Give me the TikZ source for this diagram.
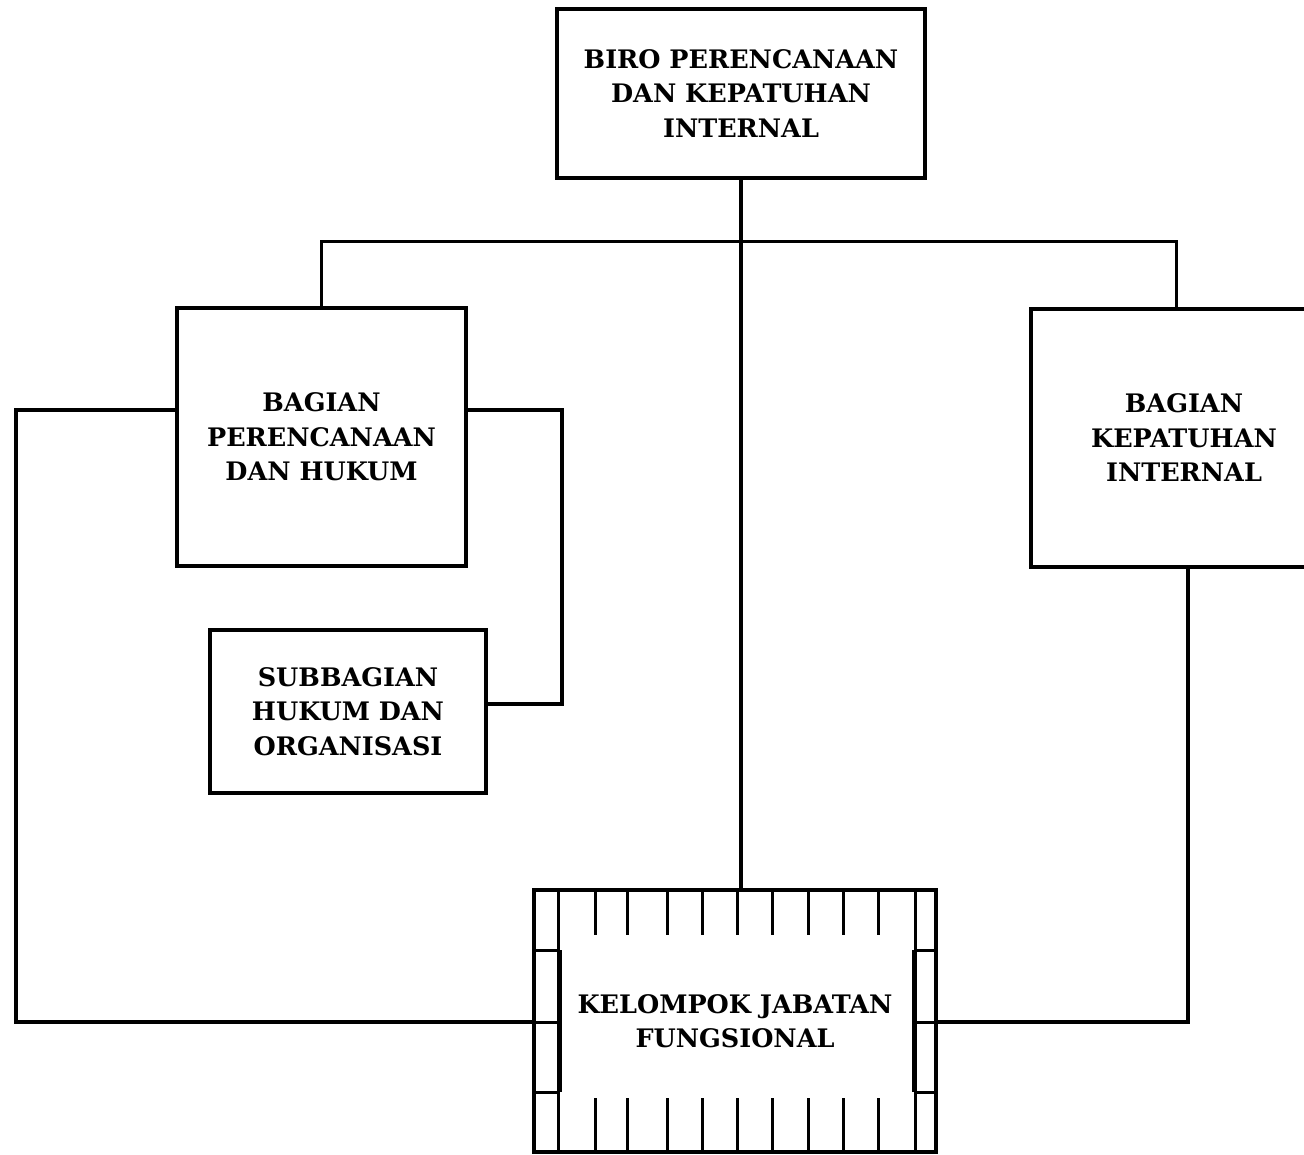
\documentclass[tikz,border=0pt]{standalone}
\usepackage{fontspec}
\setmainfont{DejaVu Serif}
\begin{document}
\begin{tikzpicture}[x=1pt,y=-1pt,
  lbl/.style={inner sep=0pt, align=center,
    font=\fontsize{25.5}{34.5}\selectfont\bfseries},
  box/.style={lbl, draw, line width=4pt},
  conn/.style={line width=4pt},
  bus/.style={line width=3pt},
  hatch/.style={line width=3pt}]
\useasboundingbox (0,0) rectangle (1304,1155);
\begin{scope}
\clip (0,0) rectangle (1304,1155);
\node[box, minimum width=368pt, minimum height=169pt] (biro) at (741,93.5) {BIRO PERENCANAAN\\DAN KEPATUHAN\\INTERNAL};
\node[box, minimum width=289pt, minimum height=258pt] (bph) at (321.5,437) {BAGIAN\\PERENCANAAN\\DAN HUKUM};
\node[box, minimum width=290pt, minimum height=258pt] (bki) at (1176,438) {};
\node[lbl] (bkitext) at (1184,438) {BAGIAN\\KEPATUHAN\\INTERNAL};
\node[box, minimum width=276pt, minimum height=163pt] (sub) at (348,711.5) {SUBBAGIAN\\HUKUM DAN\\ORGANISASI};
\node[box, minimum width=402pt, minimum height=262pt] (kjf) at (735,1021) {KELOMPOK JABATAN\\FUNGSIONAL};
\end{scope}
% hatching of the functional group box
\foreach \x in {558,915} \draw[hatch] (\x,890) -- (\x,1152);
\draw[line width=5pt] (559,950) -- (559,1092);
\draw[line width=5pt] (914,950) -- (914,1092);
\foreach \y in {950,1022,1092} {
  \draw[hatch] (534,\y) -- (558,\y);
  \draw[hatch] (915,\y) -- (936,\y);
}
\foreach \x in {595,627,667,702,737,772,808,843,878} {
  \draw[hatch] (\x,890) -- (\x,935);
  \draw[hatch] (\x,1098) -- (\x,1152);
}
% connectors
\coordinate (bus) at (741,242);
\draw[conn] (biro.south) -- (biro.south |- kjf.north);
\draw[bus] (bph.north) |- (bus) -| (bki.north);
\coordinate (lc) at (16,1022);
\coordinate (rc) at (562,704);
\draw[conn] (bph.west |- 0,410) -| (lc) -- (kjf.west |- lc);
\draw[conn] (bph.east |- 0,410) -| (rc) -- (sub.east |- rc);
\coordinate (kc) at (1188,1022);
\draw[conn] (kc |- bki.south) -- (kc) -- (kjf.east |- kc);
\end{tikzpicture}
\end{document}
